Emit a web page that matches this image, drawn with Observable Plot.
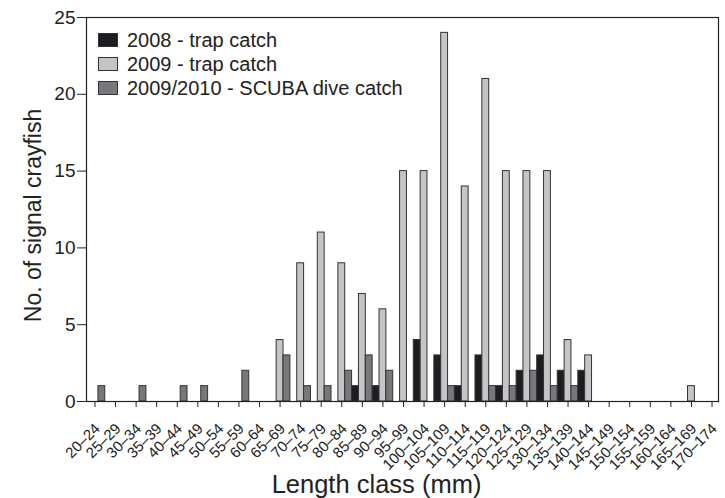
<!DOCTYPE html>
<html>
<head>
<meta charset="utf-8">
<script src="https://cdn.jsdelivr.net/npm/d3@7"></script>
<script src="https://cdn.jsdelivr.net/npm/@observablehq/plot@0.6"></script>
<style>
  body { margin: 0; background: #fff; }
  #wrap { position: relative; width: 725px; height: 498px; font-family: "Liberation Sans", Arial, Helvetica, sans-serif; color: #222; }
  #legend { position: absolute; left: 98px; top: 28px; font-size: 20px; line-height: 24px; }
  .item { display: flex; align-items: center; height: 24px; }
  .sw { width: 18px; height: 12px; border: 1px solid #333; margin-right: 9px; box-sizing: content-box; }
</style>
</head>
<body>
<div id="wrap"></div>
<script>
const categories = ["20–24","25–29","30–34","35–39","40–44","45–49","50–54","55–59","60–64","65–69",
  "70–74","75–79","80–84","85–89","90–94","95–99","100–104","105–109","110–114","115–119",
  "120–124","125–129","130–134","135–139","140–144","145–149","150–154","155–159","160–164","165–169","170–174"];
const series = ["2008 - trap catch", "2009 - trap catch", "2009/2010 - SCUBA dive catch"];
const colors = ["#1d1d21", "#c5c5c7", "#78787c"];
const trap2008 = [0,0,0,0,0,0,0,0,0,0, 0,0,0,1,1,0,4,3,1,3, 1,2,3,2,2,0,0,0,0,0,0];
const trap2009 = [0,0,0,0,0,0,0,0,0,4, 9,11,9,7,6,15,15,24,14,21, 15,15,15,4,3,0,0,0,0,1,0];
const scuba    = [1,0,1,0,1,1,0,2,0,3, 1,1,2,3,2,0,0,1,0,1, 1,2,1,1,0,0,0,0,0,0,0];
const yTicks = [0,5,10,15,20,25];
const xTitle = "Length class (mm)";
const yTitle = "No. of signal crayfish";

const valuesBySeries = [trap2008, trap2009, scuba];
const keys = categories.flatMap(c => series.map(s => c + "|" + s));
const data = categories.flatMap((c, i) => series.map((s, j) => ({
  key: c + "|" + s, category: c, series: s, value: valuesBySeries[j][i]
}))).filter(d => d.value > 0);
const centerKeys = categories.map(c => c + "|" + series[1]);

const chart = Plot.plot({
  width: 725,
  height: 498,
  marginLeft: 86,
  marginRight: 7,
  marginTop: 17,
  marginBottom: 97,
  style: { fontFamily: '"Liberation Sans", Arial, Helvetica, sans-serif', color: "#222", background: "#fff" },
  x: { type: "band", domain: keys, padding: 0, range: [84.2, 721.8], axis: null },
  y: { domain: [0, 25], axis: null },
  color: { domain: series, range: colors },
  marks: [
    Plot.barY(data, { x: "key", y: "value", fill: "series", stroke: "#333", strokeWidth: 1 }),
    Plot.frame({ stroke: "#222", strokeWidth: 1.2 }),
    Plot.axisY({ ticks: yTicks, tickSize: 9, tickPadding: 2, fontSize: 19, label: null, stroke: "#222" }),
    Plot.axisX({ ticks: centerKeys, tickFormat: () => "", tickSize: 6, label: null, stroke: "#222" }),
    Plot.text(centerKeys, { x: d => d, text: d => d.split("|")[0], frameAnchor: "bottom", rotate: -45, textAnchor: "end", dx: 6, dy: 28, fontSize: 15, fill: "#222" }),
    Plot.text([xTitle], { frameAnchor: "bottom", dx: -26, dy: 91, fontSize: 25.5, fill: "#222" }),
    Plot.text([yTitle], { frameAnchor: "left", textAnchor: "middle", dx: -53, dy: 6, rotate: -90, fontSize: 23, fill: "#222" })
  ]
});

const wrap = document.getElementById("wrap");
wrap.appendChild(chart);
const legend = document.createElement("div");
legend.id = "legend";
series.forEach((s, i) => {
  const item = document.createElement("div");
  item.className = "item";
  const sw = document.createElement("div");
  sw.className = "sw";
  sw.style.background = colors[i];
  const label = document.createElement("span");
  label.textContent = s;
  item.appendChild(sw);
  item.appendChild(label);
  legend.appendChild(item);
});
wrap.appendChild(legend);
</script>
</body>
</html>
